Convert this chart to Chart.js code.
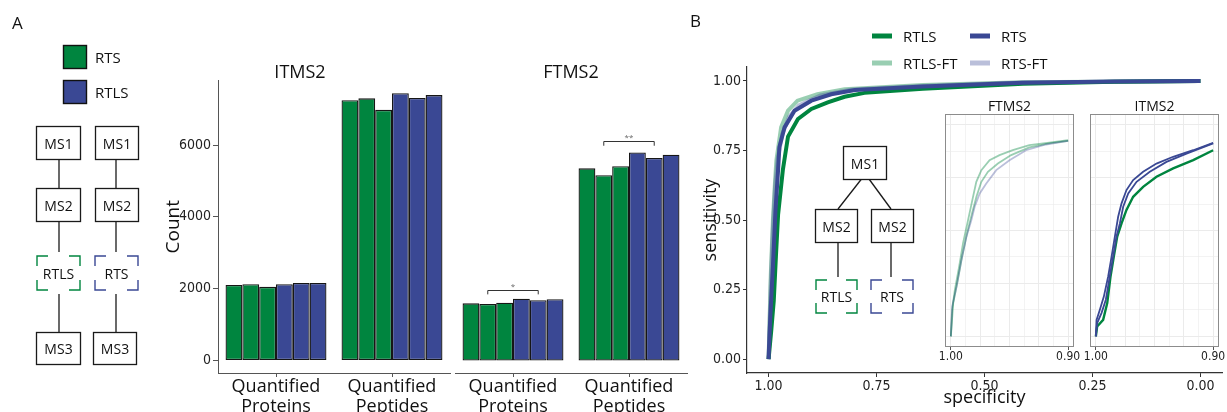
<!DOCTYPE html>
<html>
<head>
<meta charset="utf-8">
<script src="https://cdn.jsdelivr.net/npm/chart.js@4.4.1/dist/chart.umd.min.js"></script>
<style>
  html, body { margin: 0; padding: 0; background: #fff; }
  #wrap { position: relative; width: 1227px; height: 412px; overflow: hidden; font-family: 'Open Sans', sans-serif; }
  canvas { position: absolute; }
  #overlay { position: absolute; left: 0; top: 0; pointer-events: none; }
</style>
</head>
<body>
<div id="wrap">
  <canvas id="itms2Bars" width="310" height="362" style="left:150px;top:50px"></canvas>
  <canvas id="ftms2Bars" width="240" height="362" style="left:450px;top:50px"></canvas>
  <canvas id="rocMain" width="537" height="412" style="left:690px;top:0px"></canvas>
  <canvas id="rocFtms2" width="145" height="275" style="left:935px;top:95px"></canvas>
  <canvas id="rocItms2" width="145" height="275" style="left:1080px;top:95px"></canvas>
  <svg id="overlay" width="1227" height="412"></svg>
</div>
<script>
// ---- bar chart data (panel A) ----
const barCategories = [['Quantified', 'Proteins'], ['Quantified', 'Peptides']];
const barGroups = ['RTS', 'RTS', 'RTS', 'RTLS', 'RTLS', 'RTLS'];
const itms2Proteins = [2100, 2120, 2050, 2120, 2160, 2160];
const itms2Peptides = [7250, 7300, 6980, 7440, 7310, 7390];
const ftms2Proteins = [1590, 1575, 1610, 1720, 1675, 1705];
const ftms2Peptides = [5350, 5160, 5410, 5790, 5640, 5730];
const countTicks = [0, 2000, 4000, 6000];
const sigLevels = [1970, 6110];   // FTMS2 brackets, proteins / peptides
const sigLabels = ['*', '**'];

// ---- ROC data (panel B), [specificity, sensitivity] ----
const rocTicks = [0, 0.25, 0.5, 0.75, 1];
const rocRTS = [[1, 0], [0.998, 0.08], [0.996, 0.155], [0.990, 0.333], [0.984, 0.536], [0.978, 0.68], [0.975, 0.762], [0.963, 0.833], [0.940, 0.893], [0.901, 0.929], [0.855, 0.952], [0.80, 0.967], [0.643, 0.980], [0.412, 0.993], [0.2, 0.998], [0, 1]];
const rocRTLS = [[1, 0], [0.997, 0.05], [0.994, 0.10], [0.988, 0.21], [0.983, 0.37], [0.978, 0.52], [0.967, 0.68], [0.955, 0.80], [0.932, 0.863], [0.901, 0.899], [0.863, 0.923], [0.824, 0.943], [0.778, 0.957], [0.643, 0.972], [0.411, 0.990], [0.2, 0.997], [0, 1]];
const rocRTSFT = [[1, 0], [0.998, 0.10], [0.995, 0.27], [0.990, 0.47], [0.985, 0.62], [0.979, 0.72], [0.968, 0.81], [0.952, 0.872], [0.93, 0.912], [0.88, 0.948], [0.81, 0.968], [0.643, 0.982], [0.41, 0.994], [0, 1]];
const rocRTLSFT = [[1, 0], [0.998, 0.12], [0.995, 0.30], [0.990, 0.50], [0.985, 0.64], [0.982, 0.714], [0.971, 0.833], [0.955, 0.893], [0.933, 0.929], [0.887, 0.952], [0.824, 0.970], [0.643, 0.985], [0.41, 0.995], [0, 1]];

// insets: zoom on specificity 1.00 - 0.90
const insetSpecGrid = [0.9, 0.9125, 0.925, 0.9375, 0.95, 0.9625, 0.975, 0.9875, 1.0];
const insetSpecLabels = [1.0, 0.9];
const insetSensGrid = [0, 0.125, 0.25, 0.375, 0.5, 0.625, 0.75, 0.875, 1];
const ftRTLSa = [[1, 0], [0.9989, 0.126], [0.9966, 0.220], [0.9929, 0.330], [0.9896, 0.440], [0.9853, 0.550], [0.9811, 0.659], [0.9783, 0.730], [0.9740, 0.785], [0.9670, 0.832], [0.9585, 0.856], [0.9472, 0.879], [0.9331, 0.903], [0.9161, 0.915], [0.9, 0.926]];
const ftRTLSb = [[1, 0], [0.9980, 0.157], [0.9946, 0.251], [0.9904, 0.377], [0.9862, 0.487], [0.9819, 0.581], [0.9782, 0.659], [0.9740, 0.730], [0.9684, 0.777], [0.9599, 0.816], [0.9486, 0.856], [0.9331, 0.892], [0.9161, 0.911], [0.9, 0.923]];
const ftRTS = [[1, 0], [0.9989, 0.141], [0.9952, 0.235], [0.9910, 0.361], [0.9867, 0.471], [0.9825, 0.549], [0.9797, 0.612], [0.9754, 0.675], [0.9698, 0.722], [0.9613, 0.785], [0.9500, 0.832], [0.9359, 0.879], [0.9189, 0.906], [0.9, 0.923]];
const itRTSa = [[1, 0], [0.9994, 0.078], [0.9966, 0.126], [0.9932, 0.188], [0.9895, 0.283], [0.9866, 0.377], [0.9838, 0.471], [0.9810, 0.565], [0.9781, 0.628], [0.9739, 0.691], [0.9682, 0.738], [0.9597, 0.777], [0.9483, 0.816], [0.9341, 0.848], [0.9170, 0.879], [0.9, 0.914]];
const itRTSb = [[1, 0], [0.9989, 0.063], [0.9952, 0.110], [0.9915, 0.173], [0.9881, 0.283], [0.9852, 0.377], [0.9824, 0.471], [0.9795, 0.534], [0.9767, 0.612], [0.9724, 0.675], [0.9653, 0.730], [0.9540, 0.777], [0.9398, 0.824], [0.9227, 0.863], [0.9, 0.911]];
const itRTLS = [[1, 0], [0.9989, 0.047], [0.9938, 0.078], [0.9903, 0.157], [0.9875, 0.283], [0.9847, 0.377], [0.9818, 0.471], [0.9781, 0.534], [0.9739, 0.597], [0.9682, 0.659], [0.9597, 0.706], [0.9483, 0.754], [0.9341, 0.793], [0.9170, 0.832], [0.9, 0.879]];

// colours
const green = '#00853f';
const blue = '#3a4894';
const greenFT = 'rgba(0, 133, 63, 0.4)';
const blueFT = 'rgba(58, 72, 148, 0.35)';
const narrow = "'Liberation Sans Narrow', 'DejaVu Sans Condensed', sans-serif";
const sans = "'Open Sans', sans-serif";

// ---------- bar charts ----------
function barDatasets(proteins, peptides) {
  return barGroups.map((g, i) => ({
    label: g + ' ' + (i % 3 + 1),
    data: [proteins[i], peptides[i]],
    backgroundColor: g === 'RTS' ? green : blue,
    borderColor: '#161616',
    borderWidth: 1.3,
    borderSkipped: false,
    barPercentage: 1,
    categoryPercentage: 0.87
  }));
}

function barOptions(title, showY, pad) {
  return {
    responsive: false,
    animation: false,
    layout: { padding: pad },
    plugins: {
      legend: { display: false },
      tooltip: { enabled: false },
      title: {
        display: true, text: title, color: '#111',
        font: { family: sans, size: 18, weight: 'normal', lineHeight: 0.8 },
        padding: { top: 16, bottom: 0 }
      }
    },
    scales: {
      x: {
        grid: { offset: false, drawOnChartArea: false, tickLength: 4, color: '#555' },
        border: { color: '#555', width: 1 },
        ticks: { color: '#111', font: { family: sans, size: 18, lineHeight: 1.1 }, padding: 0, maxRotation: 0, autoSkip: false },
        afterFit: s => { s.height = 39; }
      },
      y: {
        display: showY,
        min: -350,
        max: 7800,
        afterBuildTicks: s => { s.ticks = countTicks.map(v => ({ value: v })); },
        grid: { drawOnChartArea: false, tickLength: 5, color: '#555' },
        border: { color: '#555', width: 1 },
        ticks: { color: '#222', font: { family: narrow, size: 14 }, padding: 2, callback: v => String(v) },
        title: {
          display: true, text: 'Count', color: '#111',
          font: { family: sans, size: 19, lineHeight: 1 },
          padding: { top: 14, bottom: 0 }
        },
        afterFit: s => { if (showY) s.width = 68; }
      }
    }
  };
}

// significance brackets between replicate 2 (green) and replicate 5 (blue)
const sigBrackets = {
  id: 'sigBrackets',
  afterDatasetsDraw(chart) {
    const { ctx } = chart;
    const y = chart.scales.y;
    const a = chart.getDatasetMeta(1);
    const b = chart.getDatasetMeta(4);
    ctx.save();
    ctx.strokeStyle = '#333';
    ctx.lineWidth = 1;
    ctx.fillStyle = '#666';
    ctx.font = '8px ' + sans;
    ctx.textAlign = 'center';
    sigLevels.forEach((lvl, i) => {
      const x1 = a.data[i].x, x2 = b.data[i].x;
      const yTop = Math.round(y.getPixelForValue(lvl)) + 0.5;
      const yLow = y.getPixelForValue(lvl - 130);
      ctx.beginPath();
      ctx.moveTo(x1, yLow); ctx.lineTo(x1, yTop); ctx.lineTo(x2, yTop); ctx.lineTo(x2, yLow);
      ctx.stroke();
      ctx.fillText(sigLabels[i], (x1 + x2) / 2, yTop - 2);
    });
    ctx.restore();
  }
};

new Chart(document.getElementById('itms2Bars'), {
  type: 'bar',
  data: { labels: barCategories, datasets: barDatasets(itms2Proteins, itms2Peptides) },
  options: barOptions('ITMS2', true, { left: 0, right: 10, top: 0, bottom: 0 })
});

new Chart(document.getElementById('ftms2Bars'), {
  type: 'bar',
  data: { labels: barCategories, datasets: barDatasets(ftms2Proteins, ftms2Peptides) },
  options: barOptions('FTMS2', false, { left: 5, right: 3, top: 0, bottom: 0 }),
  plugins: [sigBrackets]
});

// ---------- ROC main ----------
const rocSeries = [
  { label: 'RTS', pts: rocRTS, color: blue },
  { label: 'RTLS', pts: rocRTLS, color: green },
  { label: 'RTS-FT', pts: rocRTSFT, color: blueFT },
  { label: 'RTLS-FT', pts: rocRTLSFT, color: greenFT }
];

function lineSet(label, pts, color, width) {
  return {
    label: label,
    data: pts.map(([x, y]) => ({ x: x, y: y })),
    borderColor: color,
    borderWidth: width,
    pointRadius: 0,
    fill: false,
    tension: 0
  };
}

new Chart(document.getElementById('rocMain'), {
  type: 'line',
  data: { datasets: rocSeries.map(s => lineSet(s.label, s.pts, s.color, 4)) },
  options: {
    responsive: false,
    animation: false,
    layout: { padding: { left: 0, right: 5, top: 67, bottom: 0 } },
    plugins: { legend: { display: false }, tooltip: { enabled: false } },
    scales: {
      x: {
        type: 'linear', reverse: true, min: -0.05, max: 1.05,
        afterBuildTicks: s => { s.ticks = rocTicks.map(v => ({ value: v })); },
        grid: { drawOnChartArea: false, tickLength: 4, color: '#333' },
        border: { color: '#333', width: 1.2 },
        ticks: { color: '#222', font: { family: narrow, size: 14, lineHeight: 1 }, padding: 2, maxRotation: 0, callback: v => v.toFixed(2) },
        title: { display: true, text: 'specificity', color: '#111', font: { family: sans, size: 18, lineHeight: 1 }, padding: { top: 0, bottom: 5 } },
        afterFit: s => { s.height = 39; }
      },
      y: {
        type: 'linear', min: -0.05, max: 1.05,
        afterBuildTicks: s => { s.ticks = rocTicks.map(v => ({ value: v })); },
        grid: { drawOnChartArea: false, tickLength: 4, color: '#333' },
        border: { color: '#333', width: 1.2 },
        ticks: { color: '#222', font: { family: narrow, size: 14 }, padding: 2, callback: v => v.toFixed(2) },
        title: { display: true, text: 'sensitivity', color: '#111', font: { family: sans, size: 18, lineHeight: 1 }, padding: { top: 12, bottom: 0 } },
        afterFit: s => { s.width = 57; }
      }
    }
  }
});

// ---------- ROC insets ----------
const panelBox = {
  id: 'panelBox',
  afterDraw(chart) {
    const { ctx, chartArea: a } = chart;
    ctx.save();
    ctx.strokeStyle = '#8c8c8c';
    ctx.lineWidth = 1;
    ctx.strokeRect(Math.round(a.left) + 0.5, Math.round(a.top) + 0.5, Math.round(a.width) - 1, Math.round(a.height) - 1);
    ctx.restore();
  }
};

function insetChart(id, title, series) {
  new Chart(document.getElementById(id), {
    type: 'line',
    data: { datasets: series.map(s => lineSet(s.label, s.pts, s.color, s.width)) },
    options: {
      responsive: false,
      animation: false,
      layout: { padding: { left: 10, right: 6, top: 0, bottom: 0 } },
      plugins: {
        legend: { display: false },
        tooltip: { enabled: false },
        title: { display: true, text: title, color: '#111', font: { family: sans, size: 14, weight: 'normal', lineHeight: 1 }, padding: { top: 5, bottom: 0 } }
      },
      scales: {
        x: {
          type: 'linear', reverse: true, min: 0.895, max: 1.005,
          afterBuildTicks: s => { s.ticks = insetSpecGrid.map(v => ({ value: v })); },
          grid: {
            color: '#ebebeb',
            lineWidth: c => (c.index % 2 === 0 ? 1 : 0.6),
            tickLength: 3,
            tickColor: c => (c.tick && insetSpecLabels.includes(c.tick.value) ? '#555' : 'rgba(0,0,0,0)')
          },
          border: { display: false },
          ticks: {
            autoSkip: false, maxRotation: 0, padding: 1, color: '#222',
            font: { family: narrow, size: 12, lineHeight: 1 },
            callback: v => (insetSpecLabels.includes(v) ? v.toFixed(2) : '')
          },
          afterFit: s => { s.height = 23; }
        },
        y: {
          type: 'linear', min: -0.05, max: 1.05,
          afterBuildTicks: s => { s.ticks = insetSensGrid.map(v => ({ value: v })); },
          grid: { color: '#ebebeb', lineWidth: c => (c.index % 2 === 0 ? 1 : 0.6), drawTicks: false },
          border: { display: false },
          ticks: { display: false },
          afterFit: s => { s.width = 0; }
        }
      }
    },
    plugins: [panelBox]
  });
}

insetChart('rocFtms2', 'FTMS2', [
  { label: 'RTS-FT', pts: ftRTS, color: blueFT, width: 1.8 },
  { label: 'RTLS-FT', pts: ftRTLSa, color: greenFT, width: 1.8 },
  { label: 'RTLS-FT', pts: ftRTLSb, color: greenFT, width: 1.8 }
]);
insetChart('rocItms2', 'ITMS2', [
  { label: 'RTS', pts: itRTSa, color: blue, width: 1.8 },
  { label: 'RTS', pts: itRTSb, color: blue, width: 1.8 },
  { label: 'RTLS', pts: itRTLS, color: green, width: 2.4 }
]);

// ---------- overlay: labels, legends, workflow diagrams ----------
const svgNS = 'http://www.w3.org/2000/svg';
const overlay = document.getElementById('overlay');

function el(tag, attrs, text) {
  const n = document.createElementNS(svgNS, tag);
  Object.keys(attrs).forEach(k => n.setAttribute(k, attrs[k]));
  if (text !== undefined) n.textContent = text;
  overlay.appendChild(n);
  return n;
}
function label(x, y, txt, size, anchor) {
  return el('text', { x: x, y: y, 'font-family': 'Open Sans', 'font-size': size, fill: '#111',
    'text-anchor': anchor || 'start', 'dominant-baseline': 'central' }, txt);
}
function box(x, y, w, h, txt) {
  el('rect', { x: x + 0.5, y: y + 0.5, width: w, height: h, fill: '#fff', stroke: '#1a1a1a', 'stroke-width': 1.3 });
  label(x + w / 2 + 0.5, y + h / 2 + 0.5, txt, 14, 'middle');
}
function cornerBox(x, y, w, h, txt, color) {
  const ax = 11, ay = 10;
  const d = [
    `M${x + ax},${y} H${x} V${y + ay}`,
    `M${x + w - ax},${y} H${x + w} V${y + ay}`,
    `M${x},${y + h - ay} V${y + h} H${x + ax}`,
    `M${x + w},${y + h - ay} V${y + h} H${x + w - ax}`
  ].join(' ');
  el('path', { d: d, fill: 'none', stroke: color, 'stroke-width': 1.4 });
  label(x + w / 2, y + h / 2, txt, 14, 'middle');
}
function link(x1, y1, x2, y2) {
  el('line', { x1: x1, y1: y1, x2: x2, y2: y2, stroke: '#1a1a1a', 'stroke-width': 1.3 });
}

// panel letters
label(12, 22, 'A', 17);
label(690, 20, 'B', 17);

// panel A legend
el('rect', { x: 63.5, y: 45.5, width: 23, height: 23, fill: green, stroke: '#111', 'stroke-width': 1.4 });
label(95, 57, 'RTS', 15);
el('rect', { x: 63.5, y: 80.5, width: 23, height: 23, fill: blue, stroke: '#111', 'stroke-width': 1.4 });
label(95, 92, 'RTLS', 15);

// panel A workflows
link(59, 159, 59, 188); link(59, 221, 59, 252); link(59, 294, 59, 332);
link(116, 159, 116, 188); link(116, 221, 116, 252); link(116, 294, 116, 332);
box(36, 126, 44, 33, 'MS1'); box(95, 126, 43, 33, 'MS1');
box(36, 188, 44, 33, 'MS2'); box(95, 188, 43, 33, 'MS2');
cornerBox(37, 256, 43, 34, 'RTLS', green); cornerBox(95, 256, 43, 34, 'RTS', blue);
box(36, 332, 44, 32, 'MS3'); box(93, 332, 43, 32, 'MS3');

// panel B legend (two columns)
const legendSlots = [[872, 36], [970, 36], [872, 63], [970, 63]];
['RTLS', 'RTS', 'RTLS-FT', 'RTS-FT'].forEach((name, i) => {
  const s = rocSeries.find(r => r.label === name);
  const [lx, ly] = legendSlots[i];
  el('line', { x1: lx, y1: ly, x2: lx + 20, y2: ly, stroke: s.color, 'stroke-width': 5 });
  label(lx + 31, ly, name, 15);
});

// panel B workflow
link(861.5, 179, 838, 209); link(869, 179, 891, 209);
link(838, 242, 838, 277); link(891, 242, 891, 277);
box(843, 146, 43, 33, 'MS1');
box(815, 209, 42, 33, 'MS2'); box(871, 209, 42, 33, 'MS2');
cornerBox(816, 280, 41, 33, 'RTLS', green); cornerBox(871, 280, 42, 33, 'RTS', blue);
</script>
</body>
</html>
